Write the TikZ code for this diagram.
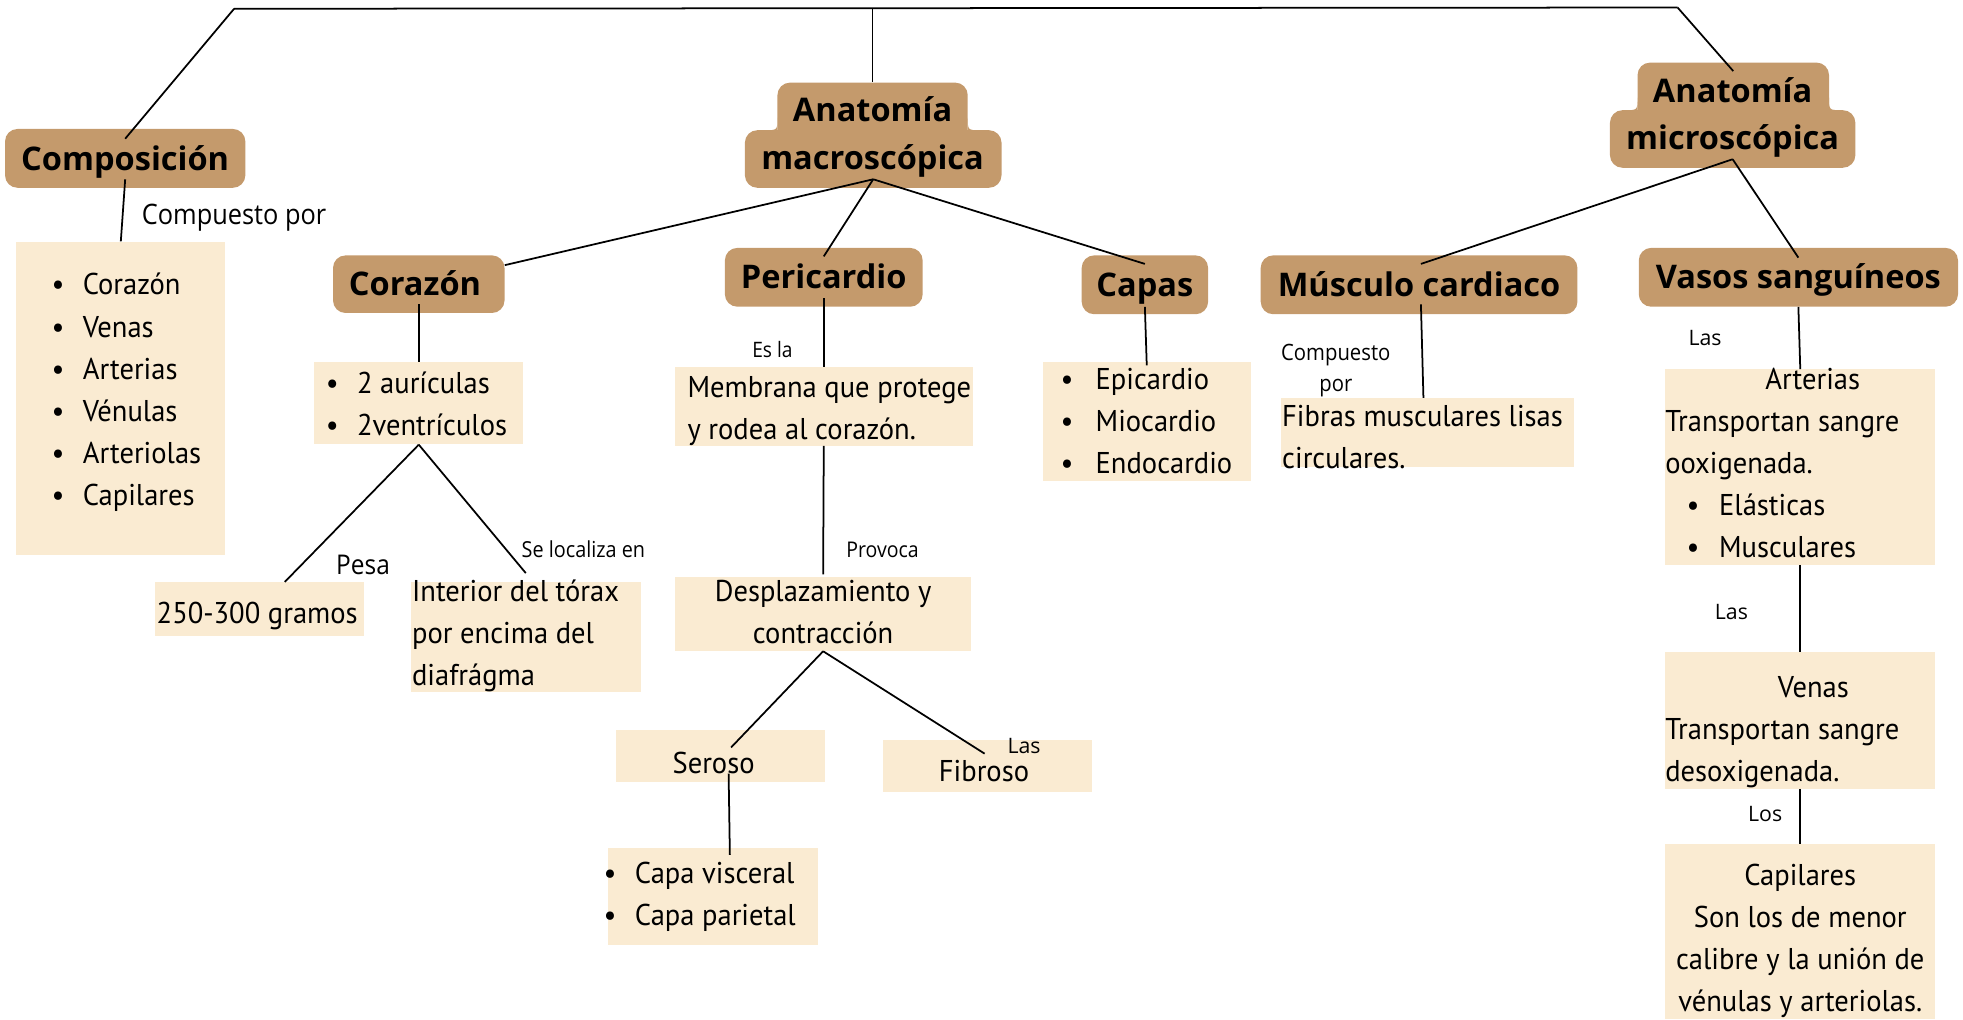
\documentclass[tikz,border=0pt]{standalone}
\usepackage{fontspec}
\usetikzlibrary{fit}
\newfontfamily\hfont{Open Sans}
\newfontfamily\bodyfont[FakeStretch=0.95]{PT Sans}
\newfontfamily\labfont[FakeStretch=0.9]{Open Sans}
\newfontfamily\lasfont{Open Sans}
\definecolor{tanc}{HTML}{C49A6C}
\definecolor{lightc}{HTML}{FAEBD2}
\newcommand\bul{\makebox[25pt][l]{\textbullet}}
\tikzset{
  hbox/.style={fill=tanc, rounded corners=10pt, inner sep=0pt},
  htext/.style={inner sep=0pt, align=center, font=\hfont\bfseries\fontsize{26}{38}\selectfont},
  lbox/.style={fill=lightc, inner sep=0pt},
  btext/.style={inner sep=0pt, align=left, font=\bodyfont\fontsize{24}{33.7}\selectfont},
  lab/.style={inner sep=0pt, align=center, font=\labfont\fontsize{#1}{#1}\selectfont},
  las/.style={inner sep=0pt, font=\lasfont\fontsize{17}{17}\selectfont},
  conn/.style={line width=1.4pt, black}
}
\begin{document}
\begin{tikzpicture}[x=1pt,y=-1pt]
\useasboundingbox (0,0) rectangle (1568,814);

% header boxes
\node[hbox, fit={(4,103) (196,150)}] (comp) {};
\node[hbox, fit={(621,66) (773,116)}] (macroTop) {};
\node[hbox, fit={(595,104) (800,150)}] (macro) {};
\fill[tanc] (621,94) .. controls (621,104) .. (611,104) -- (621,104) -- cycle;
\fill[tanc] (773,94) .. controls (773,104) .. (783,104) -- (773,104) -- cycle;
\node[htext] (macroTxt) at (697,108.7) {\strut Anatomía\\macroscópica\strut};
\node[hbox, fit={(1308,50) (1461,98)}] (microTop) {};
\node[hbox, fit={(1286,88) (1482,134)}] (micro) {};
\fill[tanc] (1308,78) .. controls (1308,88) .. (1298,88) -- (1308,88) -- cycle;
\fill[tanc] (1461,78) .. controls (1461,88) .. (1471,88) -- (1461,88) -- cycle;
\node[htext] (microTxt) at (1384,93) {\strut Anatomía\\microscópica\strut};
\node[hbox, fit={(266,204) (403,250)}] (corazon) {};
\node[hbox, fit={(579,198) (737,245)}] (peri) {};
\node[hbox, fit={(864,204) (965,251)}] (capas) {};
\node[hbox, fit={(1007,204) (1260,251)}] (musculo) {};
\node[hbox, fit={(1309,198) (1564,245)}] (vasos) {};
\node[htext] (compTxt) at ([yshift=-1.7pt]comp.center) {\strut Composición};
\node[htext] (corazonTxt) at ([xshift=-3pt,yshift=-1.7pt]corazon.center) {\strut Corazón};
\node[htext] (periTxt) at ([yshift=-1.7pt]peri.center) {\strut Pericardio};
\node[htext] (capasTxt) at ([yshift=-1.7pt]capas.center) {\strut Capas};
\node[htext] (musculoTxt) at ([yshift=-1.7pt]musculo.center) {\strut Músculo cardiaco};
\node[htext] (vasosTxt) at ([yshift=-1.7pt]vasos.center) {\strut Vasos sanguíneos};

% light boxes
\node[lbox, fit={(13,193) (180,443)}] (compList) {};
\node[lbox, fit={(251,289) (418,355)}] (corList) {};
\node[lbox, fit={(124,465) (291,508)}] (g250) {};
\node[lbox, fit={(328,465) (512,553)}] (interior) {};
\node[lbox, fit={(539,293) (777,356)}] (membrana) {};
\node[lbox, fit={(539,461) (776,520)}] (desp) {};
\node[lbox, fit={(492,583) (659,625)}] (seroso) {};
\node[lbox, fit={(705,591) (872,633)}] (fibroso) {};
\node[lbox, fit={(486,677) (653,755)}] (capa) {};
\node[lbox, fit={(833,289) (999,384)}] (capasList) {};
\node[lbox, fit={(1023,318) (1257,373)}] (fibras) {};
\node[lbox, fit={(1330,295) (1546,451)}] (arterias) {};
\node[lbox, fit={(1330,521) (1546,630)}] (venas) {};
\node[lbox, fit={(1330,674) (1546,814)}] (capil) {};

% box texts
\node[btext, anchor=west] (compListT) at (41,313) {\strut\bul Corazón\\\bul Venas\\\bul Arterias\\\bul Vénulas\\\bul Arteriolas\\\bul Capilares\strut};
\node[btext, anchor=west] (corListT) at (260,324.5) {\strut\bul 2 aurículas\\\bul 2ventrículos\strut};
\node[btext, anchor=west] (g250T) at (125,491.5) {\strut 250-300 gramos\strut};
\node[btext, anchor=west] (interiorT) at (329,507.5) {\strut Interior del tórax\\por encima del\\diafrágma\strut};
\node[btext, anchor=west] (membranaT) at (549,327.5) {\strut Membrana que protege\\y rodea al corazón.\strut};
\node[btext, align=center] (despT) at (657.5,490.5) {\strut Desplazamiento y\\contracción\strut};
\node[btext] (serosoT) at (570,611.5) {\strut Seroso\strut};
\node[btext] (fibrosoT) at (786,617.5) {\strut Fibroso\strut};
\node[btext, anchor=west] (capaT) at (482,715.5) {\strut\bul Capa visceral\\\bul Capa parietal\strut};
\node[btext, anchor=west] (capasListT) at (847,338) {\strut\makebox[28pt][l]{\textbullet}Epicardio\\\makebox[28pt][l]{\textbullet}Miocardio\\\makebox[28pt][l]{\textbullet}Endocardio\strut};
\node[btext, anchor=west] (fibrasT) at (1024,350.5) {\strut Fibras musculares lisas\\circulares.\strut};
\node[btext, anchor=west] (arteriasT) at (1330,371.5) {\strut\hspace*{80pt}Arterias\\Transportan sangre\\ooxigenada.\\\hspace*{17pt}\makebox[26pt][l]{\textbullet}Elásticas\\\hspace*{17pt}\makebox[26pt][l]{\textbullet}Musculares\strut};
\node[btext, anchor=west] (venasT) at (1330,584) {\strut\hspace*{90pt}Venas\\Transportan sangre\\desoxigenada.\strut};
\node[btext, align=center] (capilT) at (1438,751) {\strut Capilares\\Son los de menor\\calibre y la unión de\\vénulas y arteriolas.\strut};

% labels
\node[lab=22.5] (lCompPor) at (187,174) {Compuesto por};
\node[lab=21.7] (lPesa) at (290,451) {Pesa};
\node[lab=17.6] (lSeLoc) at (466,439) {Se localiza en};
\node[lab=17] (lEsLa) at (617,279) {Es la};
\node[lab=17.3] (lProvoca) at (705,439) {Provoca};
\node[lab=18, font=\labfont\fontsize{18}{25}\selectfont] (lCompuesto) at (1067,296) {Compuesto\\por};
\node[las] (lLas1) at (1362,270) {Las};
\node[las] (lLas2) at (1383,489) {Las};
\node[las] (lLos) at (1410,650) {Los};
\node[las] (lLas3) at (818,596) {Las};

% connectors
\coordinate (tl) at (187,7);
\coordinate (tm) at (697,7.5);
\coordinate (tr) at (1340,6);
\draw[conn] (tl) -- (tr);
\draw[conn] (tl) -- ([yshift=-8pt]comp.north);
\draw[conn] (tm) -- (macroTop.north);
\draw[conn] (tr) -- ([yshift=-7pt]microTop.north);
\draw[conn] ([yshift=7pt]comp.south) -- (compList.north);
\draw[conn] ([yshift=7pt]macro.south) -- ([yshift=-8pt]corazon.north east);
\draw[conn] ([yshift=7pt]macro.south) -- ([yshift=-7pt]peri.north);
\draw[conn] ([yshift=7pt]macro.south) -- ([yshift=-7pt]capas.north);
\draw[conn] ([yshift=7pt]micro.south) -- ([xshift=1.5pt,yshift=-7pt]musculo.north);
\draw[conn] ([yshift=7pt]micro.south) -- ([yshift=-8pt]vasos.north);
\draw[conn] ([yshift=7pt]corazon.south) -- (corList.north);
\draw[conn] (corList.south) -- ([xshift=20pt]g250.north);
\draw[conn] (corList.south) -- ([yshift=7pt]interior.north);
\draw[conn] ([yshift=7pt]peri.south) -- (membrana.north);
\draw[conn] (membrana.south) -- ([yshift=2pt]desp.north);
\draw[conn] (desp.south) -- ([xshift=8.5pt,yshift=7pt]seroso.center);
\draw[conn] (desp.south) -- ([xshift=-2pt,yshift=10pt]fibroso.center);
\draw[conn] ([xshift=6.5pt,yshift=-14pt]seroso.center) -- ([xshift=13.5pt,yshift=-6pt]capa.north);
\draw[conn] ([yshift=6pt]capas.south) -- ([yshift=-3pt]capasList.north);
\draw[conn] ([xshift=1.5pt,yshift=8pt]musculo.south) -- ([xshift=-3pt]fibras.north);
\draw[conn] (vasos.south) -- (arterias.north);
\draw[conn] (arterias.south) -- (venas.north);
\draw[conn] (venas.south) -- (capil.north);
\end{tikzpicture}
\end{document}
